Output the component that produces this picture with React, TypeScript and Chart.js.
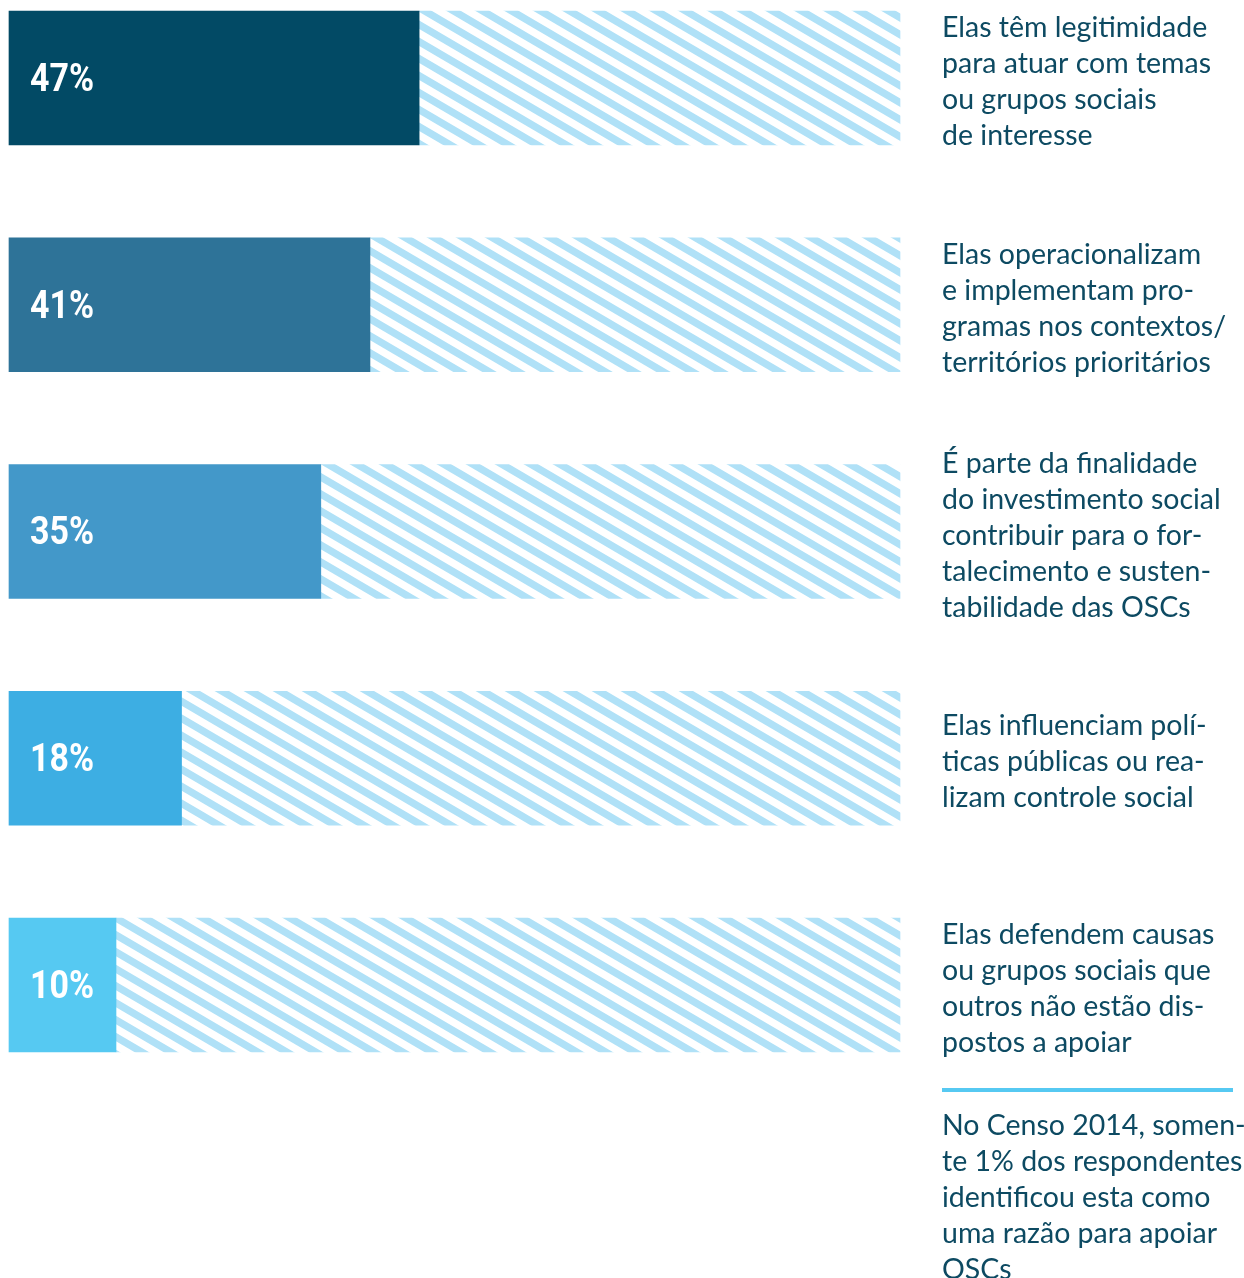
import React, { useEffect, useRef } from "react";
import { Chart, registerables } from "chart.js";

Chart.register(...registerables);

const CATEGORIES = ["Legitimidade", "Operacionalizam", "Finalidade", "Influenciam", "Defendem"];
const VALUES = [47, 41, 35, 18, 10];
const VALUE_LABELS = ["47%", "41%", "35%", "18%", "10%"];
const BAR_COLORS = ["#024a65", "#2e7398", "#4398c9", "#3daee3", "#56c9f2"];
const STRIPE_COLOR = "#b0e1f7";
const TEXT_COLOR = "#0d4a62";
const AXIS_MIN = -3.06;
const AXIS_MAX = 105.7;

const LABEL_LINES = [
  ["Elas têm legitimidade", "para atuar com temas", "ou grupos sociais", "de interesse"],
  ["Elas operacionalizam", "e implementam pro-", "gramas nos contextos/", "territórios prioritários"],
  ["É parte da finalidade", "do investimento social", "contribuir para o for-", "talecimento e susten-", "tabilidade das OSCs"],
  ["Elas influenciam polí-", "ticas públicas ou rea-", "lizam controle social"],
  ["Elas defendem causas", "ou grupos sociais que", "outros não estão dis-", "postos a apoiar"],
];
const NOTE_LINES = [
  "No Censo 2014, somen-",
  "te 1% dos respondentes",
  "identificou esta como",
  "uma razão para apoiar",
  "OSCs",
];

function makeStripePattern(): CanvasPattern | string {
  const c = document.createElement("canvas");
  c.width = 29;
  c.height = 17;
  const g = c.getContext("2d");
  if (!g) return STRIPE_COLOR;
  g.strokeStyle = STRIPE_COLOR;
  g.lineWidth = 7.3;
  for (let k = -3; k <= 3; k++) {
    g.beginPath();
    g.moveTo(-29, -17 + 17 * k);
    g.lineTo(58, 34 + 17 * k);
    g.stroke();
  }
  const p = g.createPattern(c, "repeat");
  return p || STRIPE_COLOR;
}

const textPlugin = {
  id: "textPlugin",
  afterDatasetsDraw(chart: any) {
    const ctx = chart.ctx as CanvasRenderingContext2D;
    const meta = chart.getDatasetMeta(0);
    const area = chart.chartArea;
    ctx.save();
    // value labels inside bars
    meta.data.forEach((bar: any, i: number) => {
      ctx.save();
      ctx.fillStyle = "#ffffff";
      ctx.font = "bold 39px Roboto";
      ctx.textBaseline = "middle";
      ctx.textAlign = "left";
      ctx.translate(area.left + 21, bar.y + 3);
      ctx.scale(0.87, 1);
      ctx.fillText(VALUE_LABELS[i], 0, 0);
      ctx.restore();
    });
    // right-side labels
    const lh = 36;
    const tx = area.right + 42;
    ctx.fillStyle = TEXT_COLOR;
    ctx.font = "28.5px Lato";
    ctx.textAlign = "left";
    ctx.textBaseline = "middle";
    meta.data.forEach((bar: any, i: number) => {
      const lines = LABEL_LINES[i];
      const startY = bar.y - ((lines.length - 1) * lh) / 2 + 4;
      lines.forEach((ln, j) => ctx.fillText(ln, tx, startY + j * lh));
    });
    // separator and note
    const last = meta.data[meta.data.length - 1];
    const lastBottom = last.y + last.height / 2;
    const sepY = lastBottom + 38;
    ctx.strokeStyle = "#56c9f2";
    ctx.lineWidth = 4;
    ctx.beginPath();
    ctx.moveTo(tx, sepY);
    ctx.lineTo(tx + 291, sepY);
    ctx.stroke();
    NOTE_LINES.forEach((ln, j) => ctx.fillText(ln, tx, sepY + 36 + j * lh));
    ctx.restore();
  },
};

export default function App() {
  const ref = useRef<HTMLCanvasElement>(null);
  useEffect(() => {
    if (!ref.current) return;
    const pattern = makeStripePattern();
    const chart = new Chart(ref.current, {
      type: "bar",
      data: {
        labels: CATEGORIES,
        datasets: [
          {
            label: "Valor",
            data: VALUES.map((v) => [AXIS_MIN, v]) as any,
            backgroundColor: BAR_COLORS,
            borderWidth: 0,
            barThickness: 134,
            grouped: false,
            clip: false as any,
            order: 0,
          },
          {
            label: "Restante",
            data: VALUES.map((v) => [v, AXIS_MAX]) as any,
            backgroundColor: pattern as any,
            borderWidth: 0,
            barThickness: 134,
            grouped: false,
            clip: false as any,
            order: 1,
          },
        ],
      },
      options: {
        indexAxis: "y",
        responsive: false,
        animation: false,
        layout: { padding: { left: 9, right: 344, top: 78, bottom: 293 } },
        plugins: { legend: { display: false }, tooltip: { enabled: false } },
        scales: {
          x: { type: "linear", min: AXIS_MIN, max: AXIS_MAX, display: false },
          y: { type: "category", offset: false, display: false },
        },
      },
      plugins: [textPlugin],
    });
    return () => chart.destroy();
  }, []);
  return (
    <div style={{ position: "absolute", left: 0, top: 0, width: 1244, height: 1278, background: "#fff" }}>
      <canvas ref={ref} width={1244} height={1278} />
    </div>
  );
}
